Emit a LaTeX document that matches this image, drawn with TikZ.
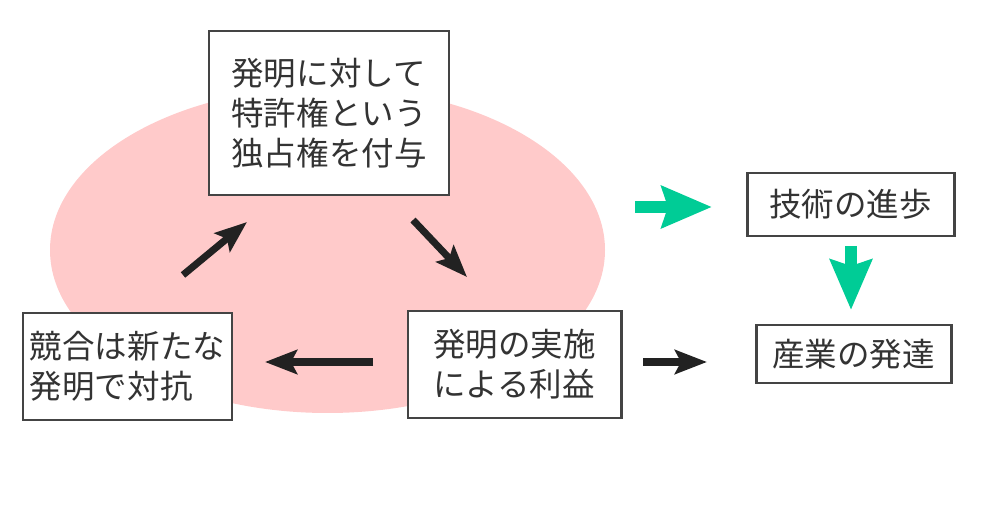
\documentclass[tikz,border=0pt]{standalone}
\usepackage{fontspec}
\setmainfont{Noto Sans CJK JP}
\usepackage{tikz}
\usetikzlibrary{arrows.meta}
\usepackage{xcolor}
\definecolor{loopfill}{HTML}{FFCACA}
\definecolor{boxline}{HTML}{444444}
\definecolor{textgray}{HTML}{333333}
\definecolor{arrowblack}{HTML}{222222}
\definecolor{arrowgreen}{HTML}{00CC96}
\tikzset{stepbox/.style={draw=boxline, line width=1.7pt, fill=white, inner sep=0pt, text=textgray, align=left}}
\tikzset{loop arrow/.style={draw=arrowblack, line width=4pt, -{Stealth[length=0.64cm, width=0.48cm, inset=0.12cm]}}}
\tikzset{green arrow/.style={draw=arrowgreen, line width=6.8pt, -{Stealth[length=1.0cm, width=0.82cm, inset=0.12cm]}}}

\begin{document}
\begin{tikzpicture}[every node/.style={font=\fontsize{18.5pt}{22.8pt}\selectfont}]
		\useasboundingbox (0,0) rectangle (20,10.36);
		% pink loop
		\fill[loopfill] (6.55,5.36) ellipse [x radius=5.55, y radius=3.26];

		% the cycle
		\node[stepbox, minimum width=4.8cm, minimum height=3.28cm] (grant) at (6.58,8.1)
			{発明に対して\\特許権という\\独占権を付与};
		\node[stepbox, minimum width=4.26cm, minimum height=2.14cm] (profit) at (10.29,3.07)
			{発明の実施\\による利益};
		\node[stepbox, minimum width=4.18cm, minimum height=2.14cm] (rival) at (2.55,3.03)
			{競合は新たな\\発明で対抗};

		\coordinate (ur0) at (3.66,4.86);
		\coordinate (ur1) at (4.94,5.92);
		\coordinate (dr0) at (8.26,5.96);
		\coordinate (dr1) at (9.34,4.82);
		\coordinate (lf0) at (7.46,3.12);
		\coordinate (lf1) at (5.30,3.12);
		\draw[loop arrow] (ur0) -- (ur1);
		\draw[loop arrow] (dr0) -- (dr1);
		\draw[loop arrow] (lf0) -- (lf1);

		% right side
		\node[stepbox, minimum width=4.14cm, minimum height=1.26cm] (tech) at (17.01,6.27)
			{技術の進歩};
		\node[stepbox, minimum width=3.9cm, minimum height=1.16cm] (industry) at (17.07,3.28)
			{産業の発達};

		\coordinate (gr0) at (12.7,6.22);
		\coordinate (gr1) at (14.24,6.22);
		\coordinate (gd0) at (17.02,5.44);
		\coordinate (gd1) at (17.02,4.16);
		\coordinate (br0) at (12.86,3.12);
		\coordinate (br1) at (14.14,3.12);
		\draw[green arrow] (gr0) -- (gr1);
		\draw[green arrow] (gd0) -- (gd1);
		\draw[loop arrow] (br0) -- (br1);
	\end{tikzpicture}
\end{document}
